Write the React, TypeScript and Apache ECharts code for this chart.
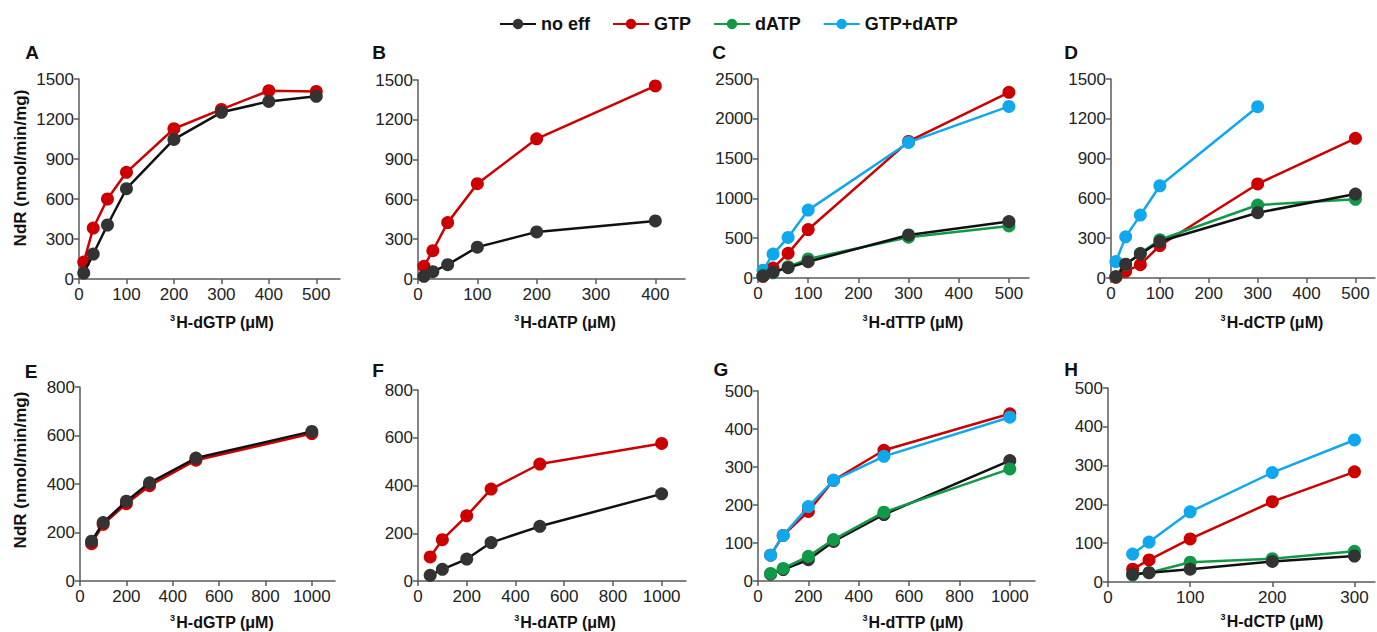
import React, { useEffect, useRef } from "react";
import * as echarts from "echarts";

// ---------- data ----------
const SERIES_NAMES = ["no eff", "GTP", "dATP", "GTP+dATP"];

const A_X = [10, 30, 60, 100, 200, 300, 400, 500];
const A_NOEFF = [45, 187, 405, 677, 1047, 1250, 1332, 1370];
const A_GTP = [127, 382, 600, 800, 1127, 1272, 1412, 1407];

const B_X = [10, 25, 50, 100, 200, 400];
const B_NOEFF = [20, 55, 108, 240, 355, 438];
const B_GTP = [96, 213, 425, 718, 1057, 1455];

const C_X = [10, 30, 60, 100, 300, 500];
const C_NOEFF = [25, 75, 130, 205, 541, 709];
const C_GTP = [22, 125, 310, 609, 1716, 2332];
const C_DATP = [35, 65, 140, 240, 512, 654];
const C_BOTH = [98, 300, 510, 853, 1703, 2156];

const D_X = [10, 30, 60, 100, 300, 500];
const D_NOEFF = [10, 104, 182, 275, 492, 633];
const D_GTP = [5, 50, 100, 245, 709, 1053];
const D_DATP = [10, 100, 186, 288, 550, 593];
const D_BOTH = [124, 310, 474, 695, 1291];

const E_X = [50, 100, 200, 300, 500, 1000];
const E_NOEFF = [164, 241, 329, 405, 507, 617];
const E_GTP = [154, 234, 319, 393, 498, 608];

const F_X = [50, 100, 200, 300, 500, 1000];
const F_NOEFF = [24, 49, 92, 161, 229, 365];
const F_GTP = [101, 173, 273, 385, 490, 576];

const G_X = [50, 100, 200, 300, 500, 1000];
const G_NOEFF = [18, 30, 56, 104, 175, 317];
const G_GTP = [68, 120, 183, 265, 344, 440];
const G_DATP = [20, 33, 65, 109, 181, 295];
const G_BOTH = [68, 120, 196, 265, 328, 431];

const H_X = [30, 50, 100, 200, 300];
const H_NOEFF = [20, 24, 33, 53, 67];
const H_GTP = [33, 57, 111, 207, 284];
const H_DATP = [18, 24, 51, 60, 79];
const H_BOTH = [72, 103, 181, 282, 366];

const TICKS_500 = [0, 100, 200, 300, 400, 500];
const TICKS_400 = [0, 100, 200, 300, 400];
const TICKS_1000 = [0, 200, 400, 600, 800, 1000];
const TICKS_300 = [0, 100, 200, 300];

// ---------- styles ----------
const FONT = "Arial, 'Liberation Sans', Helvetica, sans-serif";
const COLORS: Record<string, { line: string; dot: string }> = {
  "no eff": { line: "#111111", dot: "#333333" },
  GTP: { line: "#cc0000", dot: "#cc0000" },
  dATP: { line: "#109a48", dot: "#109a48" },
  "GTP+dATP": { line: "#10a8ec", dot: "#10a8ec" },
};

type Panel = {
  letter: string;
  nt: string;
  grid: { left: number; top: number; width: number; height: number };
  xMax: number;
  xTicks: number[];
  yMax: number;
  yInt: number;
  x: number[];
  lines: { name: string; y: number[] }[];
  letterPos: [number, number];
  namePos: [number, number];
};

const PANELS: Panel[] = [
  {
    letter: "A", nt: "dGTP",
    grid: { left: 79, top: 79, width: 261, height: 200 },
    xMax: 550, xTicks: TICKS_500, yMax: 1500, yInt: 300, x: A_X,
    lines: [{ name: "GTP", y: A_GTP }, { name: "no eff", y: A_NOEFF }],
    letterPos: [32, 52], namePos: [222, 322],
  },
  {
    letter: "B", nt: "dATP",
    grid: { left: 418, top: 80, width: 267, height: 199 },
    xMax: 450, xTicks: TICKS_400, yMax: 1500, yInt: 300, x: B_X,
    lines: [{ name: "GTP", y: B_GTP }, { name: "no eff", y: B_NOEFF }],
    letterPos: [379, 52], namePos: [565, 322],
  },
  {
    letter: "C", nt: "dTTP",
    grid: { left: 758, top: 79, width: 271, height: 199 },
    xMax: 540, xTicks: TICKS_500, yMax: 2500, yInt: 500, x: C_X,
    lines: [
      { name: "GTP", y: C_GTP },
      { name: "GTP+dATP", y: C_BOTH },
      { name: "dATP", y: C_DATP },
      { name: "no eff", y: C_NOEFF },
    ],
    letterPos: [719, 52], namePos: [913, 322],
  },
  {
    letter: "D", nt: "dCTP",
    grid: { left: 1111, top: 79, width: 264, height: 199 },
    xMax: 540, xTicks: TICKS_500, yMax: 1500, yInt: 300, x: D_X,
    lines: [
      { name: "GTP", y: D_GTP },
      { name: "GTP+dATP", y: D_BOTH },
      { name: "dATP", y: D_DATP },
      { name: "no eff", y: D_NOEFF },
    ],
    letterPos: [1071, 52], namePos: [1272, 322],
  },
  {
    letter: "E", nt: "dGTP",
    grid: { left: 80, top: 387, width: 255, height: 194 },
    xMax: 1100, xTicks: TICKS_1000, yMax: 800, yInt: 200, x: E_X,
    lines: [{ name: "GTP", y: E_GTP }, { name: "no eff", y: E_NOEFF }],
    letterPos: [31, 371], namePos: [222, 622],
  },
  {
    letter: "F", nt: "dATP",
    grid: { left: 418, top: 390, width: 268, height: 191 },
    xMax: 1100, xTicks: TICKS_1000, yMax: 800, yInt: 200, x: F_X,
    lines: [{ name: "GTP", y: F_GTP }, { name: "no eff", y: F_NOEFF }],
    letterPos: [378, 370], namePos: [565, 622],
  },
  {
    letter: "G", nt: "dTTP",
    grid: { left: 758, top: 391, width: 277, height: 190 },
    xMax: 1100, xTicks: TICKS_1000, yMax: 500, yInt: 100, x: G_X,
    lines: [
      { name: "GTP", y: G_GTP },
      { name: "GTP+dATP", y: G_BOTH },
      { name: "no eff", y: G_NOEFF },
      { name: "dATP", y: G_DATP },
    ],
    letterPos: [721, 369], namePos: [913, 622],
  },
  {
    letter: "H", nt: "dCTP",
    grid: { left: 1108, top: 388, width: 267, height: 194 },
    xMax: 325, xTicks: TICKS_300, yMax: 500, yInt: 100, x: H_X,
    lines: [
      { name: "GTP", y: H_GTP },
      { name: "GTP+dATP", y: H_BOTH },
      { name: "dATP", y: H_DATP },
      { name: "no eff", y: H_NOEFF },
    ],
    letterPos: [1071, 369], namePos: [1272, 621],
  },
];

function buildOption() {
  const axisLine = { show: true, lineStyle: { color: "#5a5a5a", width: 1.5 } };
  const axisTick = { show: true, length: 5, lineStyle: { color: "#5a5a5a", width: 1.5 } };
  const labelStyle = {
    color: "#222",
    fontSize: 17,
    fontFamily: FONT,
    formatter: (v: number) => String(v),
  };

  const grid: any[] = [];
  const xAxis: any[] = [];
  const yAxis: any[] = [];
  const series: any[] = [];
  const graphic: any[] = [];

  PANELS.forEach((p, i) => {
    grid.push({ ...p.grid, containLabel: false });
    xAxis.push({
      type: "value",
      gridIndex: i,
      min: 0,
      max: p.xMax,
      axisLine,
      axisTick: { ...axisTick, customValues: p.xTicks },
      axisLabel: { ...labelStyle, margin: 7, customValues: p.xTicks },
      splitLine: { show: false },
    });
    yAxis.push({
      type: "value",
      gridIndex: i,
      min: 0,
      max: p.yMax,
      interval: p.yInt,
      axisLine,
      axisTick,
      axisLabel: { ...labelStyle, margin: 5 },
      splitLine: { show: false },
    });
    p.lines.forEach((l, k) => {
      const c = COLORS[l.name];
      series.push({
        type: "line",
        name: l.name,
        xAxisIndex: i,
        yAxisIndex: i,
        data: l.y.map((v, j) => [p.x[j], v]),
        symbol: "circle",
        symbolSize: 13,
        showSymbol: true,
        lineStyle: { color: c.line, width: 2.5 },
        itemStyle: { color: c.dot },
        z: 2 + k,
      });
    });
    graphic.push({
      type: "text",
      x: p.letterPos[0],
      y: p.letterPos[1],
      style: {
        text: p.letter,
        font: `bold 19px ${FONT}`,
        fill: "#111",
        align: "center",
        verticalAlign: "middle",
      },
    });
    graphic.push({
      type: "text",
      x: p.namePos[0],
      y: p.namePos[1],
      style: {
        text: `{s|3}{m|H-${p.nt} (μM)}`,
        align: "center",
        verticalAlign: "middle",
        fill: "#111",
        rich: {
          s: { fontSize: 9, fontWeight: "bold", fontFamily: FONT, verticalAlign: "top", lineHeight: 18, padding: [0, 1, 0, 0] },
          m: { fontSize: 16, fontWeight: "bold", fontFamily: FONT, lineHeight: 18 },
        },
      },
    });
  });

  [168, 470].forEach((cy) => {
    graphic.push({
      type: "text",
      x: 20,
      y: cy,
      rotation: Math.PI / 2,
      style: {
        text: "NdR (nmol/min/mg)",
        font: `bold 17px ${FONT}`,
        fill: "#111",
        align: "center",
        verticalAlign: "middle",
      },
    });
  });

  return {
    animation: false,
    backgroundColor: "#ffffff",
    legend: {
      data: SERIES_NAMES,
      left: 494,
      top: 10,
      itemWidth: 36,
      itemHeight: 13,
      itemGap: 22,
      textStyle: { fontSize: 18, fontWeight: "bold", color: "#111", fontFamily: FONT },
      selectedMode: false,
    },
    grid,
    xAxis,
    yAxis,
    series,
    graphic,
  };
}

export default function App() {
  const ref = useRef<HTMLDivElement>(null);
  useEffect(() => {
    if (!ref.current) return;
    const chart = echarts.init(ref.current, undefined, { renderer: "svg" });
    chart.setOption(buildOption() as any);
    return () => chart.dispose();
  }, []);
  return (
    <div
      ref={ref}
      style={{ position: "absolute", left: 0, top: 0, width: 1377, height: 632, background: "#fff" }}
    />
  );
}
